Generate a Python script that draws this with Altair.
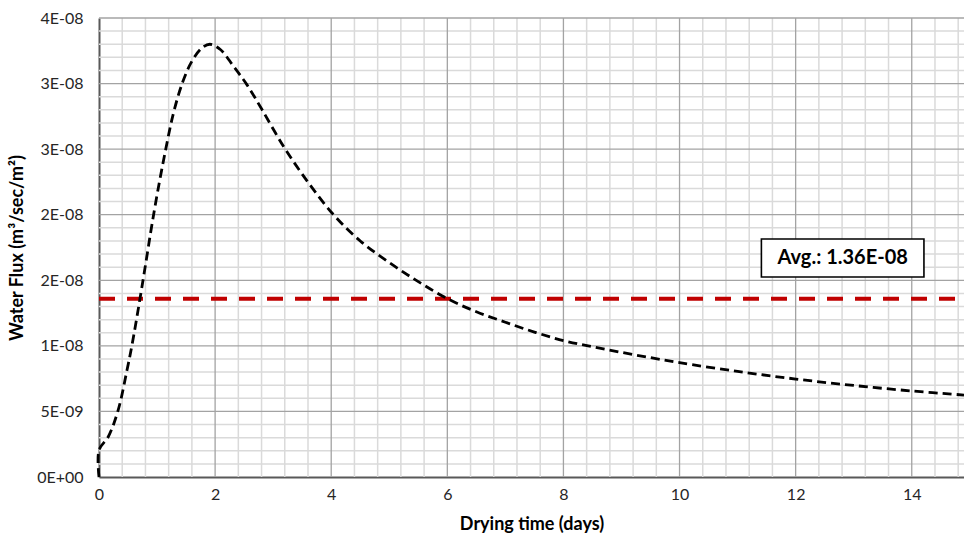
import altair as alt
import numpy as np
import pandas as pd

# Drying-time series: water flux through the sample (m^3/sec/m^2)
time_days = [0.0, 0.001, 0.16, 0.33, 0.48, 0.57, 0.71, 0.82, 0.91, 1.02, 1.15,
             1.28, 1.44, 1.60, 1.77, 1.91, 2.09, 2.32, 2.55, 2.81, 3.18, 3.58,
             4.04, 4.50, 5.00, 5.50, 6.00, 6.50, 7.00, 7.50, 8.00, 8.50, 9.00,
             9.50, 10.00, 11.00, 12.00, 13.00, 14.00, 14.90]
water_flux = [0.0, 2.06e-9, 3.07e-9, 5.1e-9, 8.1e-9, 1.01e-8, 1.37e-8, 1.67e-8,
              1.92e-8, 2.20e-8, 2.50e-8, 2.77e-8, 3.01e-8, 3.17e-8, 3.27e-8,
              3.30e-8, 3.26e-8, 3.13e-8, 2.99e-8, 2.80e-8, 2.52e-8, 2.26e-8,
              2.00e-8, 1.80e-8, 1.635e-8, 1.49e-8, 1.36e-8, 1.26e-8, 1.18e-8,
              1.105e-8, 1.04e-8, 9.93e-9, 9.5e-9, 9.1e-9, 8.72e-9, 8.05e-9,
              7.47e-9, 6.98e-9, 6.56e-9, 6.25e-9]

average_flux = 1.36e-8
average_label = "Avg.: 1.36E-08"

x_ticks = [0, 2, 4, 6, 8, 10, 12, 14]
y_ticks = [0, 5e-9, 1e-8, 1.5e-8, 2e-8, 2.5e-8, 3e-8, 3.5e-8]
y_tick_labels = ["0E+00", "5E-09", "1E-08", "2E-08", "2E-08", "3E-08", "3E-08", "4E-08"]

X_MAX = 14.9
Y_MAX = 3.5e-8
FONT = "Lato"

x_scale = alt.Scale(domain=[0, X_MAX], nice=False, zero=False)
y_scale = alt.Scale(domain=[0, Y_MAX], nice=False)

label_expr = "[" + ",".join(f"'{s}'" for s in y_tick_labels) + "][round(datum.value / 5e-9)]"

# one axis definition per direction, shared by every layer so they merge cleanly
x_axis = alt.Axis(title="Drying time (days)", values=x_ticks, grid=False, ticks=False,
                  domainColor="#595959", domainWidth=2, labelFont=FONT, labelFontSize=16,
                  labelColor="#262626", labelPadding=9, labelFlush=False,
                  titleFont=FONT, titleFontSize=18,
                  titleFontWeight="bold", titleColor="black", titlePadding=13)
y_axis = alt.Axis(title="Water Flux (m³/sec/m²)", values=y_ticks, grid=False, ticks=False,
                  labelExpr=label_expr, domainColor="#595959", domainWidth=2,
                  labelFont=FONT, labelFontSize=16, labelColor="#262626", labelPadding=16,
                  labelFlush=False,
                  titleFont=FONT, titleFontSize=18, titleFontWeight="bold",
                  titleColor="black", titlePadding=10)


def xq(field):
    return alt.X(field, type="quantitative", scale=x_scale, axis=x_axis)


def yq(field):
    return alt.Y(field, type="quantitative", scale=y_scale, axis=y_axis)


# grid positions
minor_x = [v for v in np.round(np.arange(0, X_MAX + 1e-9, 0.4), 2) if abs(v / 2 - round(v / 2)) > 1e-6]
minor_y = [v for v in np.arange(0, Y_MAX + 1e-20, 1e-9) if abs(v / 5e-9 - round(v / 5e-9)) > 1e-6]
major_x = [v for v in x_ticks if v > 0]
major_y = [v for v in y_ticks if v > 0]

minor_col = "#dadada"
major_col = "#a3a3a3"

minor_v = alt.Chart(pd.DataFrame({"t": minor_x})).mark_rule(
    color=minor_col, strokeWidth=1.5).encode(x=xq("t"))
minor_h = alt.Chart(pd.DataFrame({"f": minor_y})).mark_rule(
    color=minor_col, strokeWidth=1.5).encode(y=yq("f"))
major_v = alt.Chart(pd.DataFrame({"t": major_x})).mark_rule(
    color=major_col, strokeWidth=1.3).encode(x=xq("t"))
major_h = alt.Chart(pd.DataFrame({"f": major_y})).mark_rule(
    color=major_col, strokeWidth=1.3).encode(y=yq("f"))

avg_line = alt.Chart(pd.DataFrame({"t0": [0.0], "t1": [X_MAX], "f": [average_flux]})).mark_rule(
    color="#c00000", strokeWidth=4, strokeDash=[16, 12]).encode(
    x=xq("t0"), x2="t1:Q", y=yq("f"))

curve = alt.Chart(pd.DataFrame({"t": time_days, "f": water_flux})).mark_line(
    color="black", strokeWidth=2.8, strokeDash=[9, 5], interpolate="catmull-rom").encode(
    x=xq("t"), y=yq("f"))

# annotation box for the average value
box_df = pd.DataFrame({"t0": [11.41], "t1": [14.21], "f0": [1.525e-8], "f1": [1.815e-8],
                       "tc": [12.81], "fc": [1.67e-8], "label": [average_label]})
box = alt.Chart(box_df).mark_rect(fill="white", stroke="black", strokeWidth=1.6).encode(
    x=xq("t0"), x2="t1:Q", y=yq("f0"), y2="f1:Q")
box_text = alt.Chart(box_df).mark_text(
    font=FONT, fontSize=20, fontWeight="bold", color="black", baseline="middle", align="center").encode(
    x=xq("tc"), y=yq("fc"), text="label:N")

chart = alt.layer(minor_v, minor_h, major_v, major_h, avg_line, curve, box, box_text).properties(
    width=865, height=459,
    padding={"left": 99, "top": 18, "right": 0, "bottom": 63},
    autosize=alt.AutoSizeParams(type="none"),
    background="white",
).configure_view(stroke=None)

chart.save("out.html", embed_options={"renderer": "svg", "actions": False})
